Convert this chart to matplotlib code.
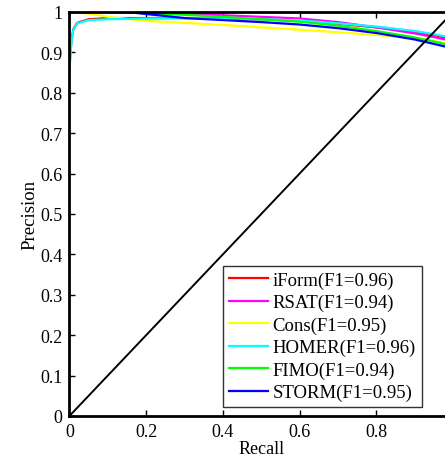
import matplotlib
matplotlib.use("Agg")
import matplotlib.pyplot as plt

plt.rcParams['font.family'] = ['Liberation Serif', 'DejaVu Serif']

# Data
recall_iform = [0.0, 0.003, 0.006, 0.01, 0.02, 0.05, 0.1, 0.2, 0.3, 0.4, 0.5, 0.6, 0.7, 0.8, 0.9, 0.95, 1.0]
prec_iform   = [0.86, 0.905, 0.935, 0.957, 0.973, 0.982, 0.985, 0.985, 0.985, 0.984, 0.982, 0.978, 0.971, 0.962, 0.950, 0.942, 0.934]

recall_rsat = [0.0, 0.1, 0.2, 0.3, 0.4, 0.5, 0.6, 0.7, 0.8, 0.9, 0.95, 1.0]
prec_rsat   = [1.0, 1.0, 0.998, 0.995, 0.992, 0.988, 0.984, 0.975, 0.962, 0.947, 0.938, 0.928]

recall_cons = [0.0, 0.03, 0.06, 0.1, 0.2, 0.3, 0.4, 0.5, 0.6, 0.7, 0.8, 0.9, 0.95, 1.0]
prec_cons   = [1.0, 0.998, 0.995, 0.988, 0.978, 0.973, 0.968, 0.962, 0.956, 0.950, 0.943, 0.935, 0.928, 0.920]

recall_homer = [0.0, 0.003, 0.006, 0.01, 0.02, 0.05, 0.1, 0.2, 0.3, 0.4, 0.5, 0.6, 0.7, 0.8, 0.9, 0.95, 1.0]
prec_homer   = [0.85, 0.90, 0.93, 0.955, 0.972, 0.980, 0.982, 0.984, 0.985, 0.984, 0.982, 0.979, 0.972, 0.964, 0.953, 0.945, 0.936]

recall_fimo = [0.0, 0.1, 0.2, 0.3, 0.4, 0.5, 0.6, 0.7, 0.8, 0.9, 0.95, 1.0]
prec_fimo   = [1.0, 1.0, 0.997, 0.993, 0.988, 0.982, 0.976, 0.966, 0.953, 0.937, 0.927, 0.916]

recall_storm = [0.0, 0.15, 0.2, 0.3, 0.4, 0.5, 0.6, 0.7, 0.8, 0.9, 0.95, 1.0]
prec_storm   = [1.0, 1.0, 0.995, 0.985, 0.980, 0.975, 0.969, 0.960, 0.948, 0.932, 0.921, 0.910]

labels = ["iForm(F1=0.96)", "RSAT(F1=0.94)", "Cons(F1=0.95)",
          "HOMER(F1=0.96)", "FIMO(F1=0.94)", "STORM(F1=0.95)"]
colors = ["#ff0000", "#ff00ff", "#ffff00", "#00ffff", "#00ff00", "#0000ff"]

xticks = [0, 0.2, 0.4, 0.6, 0.8]
xticklabels = ["0", "0.2", "0.4", "0.6", "0.8"]
yticks = [0, 0.1, 0.2, 0.3, 0.4, 0.5, 0.6, 0.7, 0.8, 0.9, 1]
yticklabels = ["0", "0.1", "0.2", "0.3", "0.4", "0.5", "0.6", "0.7", "0.8", "0.9", "1"]

fig = plt.figure(figsize=(4.45, 4.64), dpi=100)
ax = fig.add_axes([0.156, 0.1013, 0.862, 0.8707])

series = [(recall_iform, prec_iform), (recall_rsat, prec_rsat), (recall_cons, prec_cons),
          (recall_homer, prec_homer), (recall_fimo, prec_fimo), (recall_storm, prec_storm)]
for (r, p), lab, c in zip(series, labels, colors):
    ax.plot(r, p, color=c, lw=1.6, label=lab)

ax.plot([0, 1], [0, 1], color="black", lw=1.4)

ax.set_xlim(0, 1)
ax.set_ylim(0, 1)
ax.set_xticks(xticks)
ax.set_xticklabels(xticklabels)
ax.set_yticks(yticks)
ax.set_yticklabels(yticklabels)
ax.tick_params(direction="in", length=4, width=1, labelsize=13, pad=5,
               top=True, right=True)
for s in ax.spines.values():
    s.set_linewidth(2)

ax.set_xlabel("Recall", fontsize=13, labelpad=0)
ax.set_ylabel("Precision", fontsize=13.5, labelpad=1)

leg = ax.legend(loc="lower right", bbox_to_anchor=(0.918, 0.022), borderaxespad=0,
                fontsize=13.5, frameon=True, fancybox=False, edgecolor="black",
                labelspacing=0.28, handlelength=2.1, handletextpad=0.25,
                borderpad=0.3)
leg.get_frame().set_linewidth(1.0)

fig.savefig("out.png", dpi=100)
